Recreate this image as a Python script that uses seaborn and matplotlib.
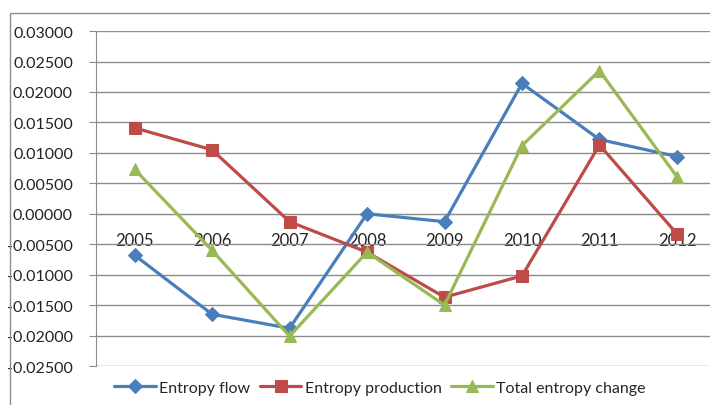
import pandas as pd
import seaborn as sns
import matplotlib.pyplot as plt
from matplotlib.patches import Rectangle
from matplotlib.ticker import FuncFormatter, MultipleLocator, FixedLocator

# Data
YEARS = ["2005", "2006", "2007", "2008", "2009", "2010", "2011", "2012"]
ENTROPY_FLOW = [-0.0068, -0.0165, -0.0188, 0.0000, -0.0013, 0.0214, 0.0122, 0.0094]
ENTROPY_PRODUCTION = [0.0141, 0.0105, -0.0013, -0.0063, -0.0137, -0.0102, 0.0113, -0.0033]
TOTAL_CHANGE = [0.0073, -0.0060, -0.0201, -0.0063, -0.0150, 0.0112, 0.0235, 0.0061]

SERIES = ["Entropy flow", "Entropy production", "Total entropy change"]
COLORS = {"Entropy flow": "#4A7EBB", "Entropy production": "#BE4B48",
          "Total entropy change": "#98B954"}
MARKERS = {"Entropy flow": "D", "Entropy production": "s", "Total entropy change": "^"}
SIZES = {"Entropy flow": 7, "Entropy production": 9, "Total entropy change": 9}


def fmt_y(v, _pos):
    if abs(v) < 1e-9:
        v = 0.0
    return f"{v:.5f}"


def main():
    frames = []
    for name, vals in zip(SERIES, [ENTROPY_FLOW, ENTROPY_PRODUCTION, TOTAL_CHANGE]):
        frames.append(pd.DataFrame({"pos": range(len(YEARS)), "value": vals, "series": name}))
    df = pd.concat(frames, ignore_index=True)

    sns.set_style("white")
    plt.rcParams["font.family"] = ["Lato", "DejaVu Sans"]

    fig = plt.figure(figsize=(7.1, 4.06), dpi=100)
    ax = fig.add_axes([0.135, 0.096, 0.873, 0.825])

    for name in SERIES:
        sub = df[df["series"] == name]
        sns.lineplot(data=sub, x="pos", y="value", ax=ax, color=COLORS[name],
                     marker=MARKERS[name], markersize=SIZES[name], linewidth=2.3,
                     markeredgecolor=COLORS[name], label=name, sort=False, zorder=3)

    ax.set_xlim(-0.5, len(YEARS) - 0.5)
    ax.set_ylim(-0.025, 0.03)
    ax.yaxis.set_major_locator(MultipleLocator(0.005))
    ax.yaxis.set_major_formatter(FuncFormatter(fmt_y))
    ax.grid(axis="y", color="#8c8c8c", linewidth=1.0)
    ax.grid(axis="x", visible=False)
    ax.set_axisbelow(True)

    # category axis sits on the zero line
    for s in ["top", "right"]:
        ax.spines[s].set_visible(False)
    ax.spines["bottom"].set_position(("data", 0))
    ax.spines["bottom"].set_color("#8c8c8c")
    ax.spines["left"].set_color("#8c8c8c")
    ax.set_xticks(range(len(YEARS)))
    ax.set_xticklabels(YEARS)
    ax.xaxis.set_minor_locator(FixedLocator([i + 0.5 for i in range(len(YEARS))]))
    ax.tick_params(axis="x", which="major", length=0, labelsize=12, pad=13,
                   labelcolor="#222222")
    ax.tick_params(axis="x", which="minor", length=5, direction="in", color="#8c8c8c")
    ax.tick_params(axis="y", length=5, color="#8c8c8c", labelsize=11.5, pad=11.5,
                   labelcolor="#222222", left=True)
    ax.set_xlabel("")
    ax.set_ylabel("")

    ax.legend(loc="center", bbox_to_anchor=(0.535, 0.042), bbox_transform=fig.transFigure,
              ncol=3, frameon=False, fontsize=11.5, handlelength=2.6,
              columnspacing=0.6, handletextpad=0.2)

    # outer chart border
    fig.patches.append(Rectangle((0.014, -0.1), 1.2, 1.066, transform=fig.transFigure,
                                 fill=False, edgecolor="#8c8c8c", linewidth=1.0))

    fig.savefig("out.png", dpi=100)


if __name__ == "__main__":
    main()
